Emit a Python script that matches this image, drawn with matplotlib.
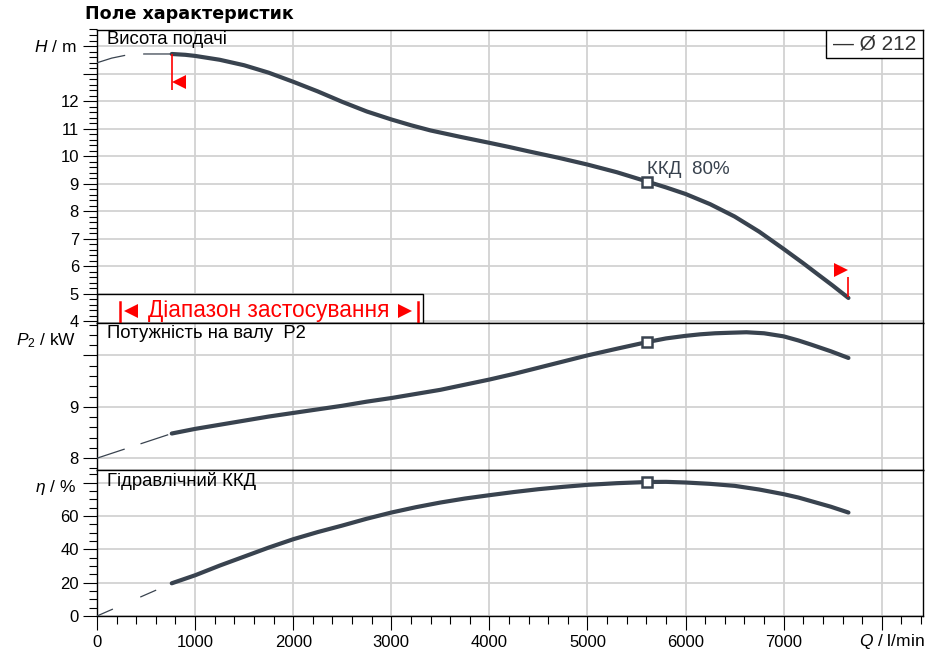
import matplotlib
matplotlib.use('Agg')
import matplotlib.pyplot as plt
import matplotlib.transforms as mtransforms
from matplotlib.patches import Rectangle
from matplotlib.ticker import MultipleLocator, FixedLocator, FixedFormatter

plt.rcParams['font.family'] = ['Liberation Sans', 'DejaVu Sans']
plt.rcParams['mathtext.fontset'] = 'custom'
plt.rcParams['mathtext.rm'] = 'Liberation Sans'
plt.rcParams['mathtext.it'] = 'Liberation Sans:italic'
plt.rcParams['lines.scale_dashes'] = False

# --- data ---
q_head = [762, 900, 1000, 1250, 1500, 1750, 2000, 2250, 2500, 2750, 3000, 3200, 3400,
          3700, 4000, 4200, 4400, 4700, 5000, 5300, 5610, 5800, 6000, 6250, 6500, 6750,
          7000, 7200, 7340, 7500, 7660]
head = [13.71, 13.68, 13.64, 13.5, 13.3, 13.03, 12.7, 12.35, 11.97, 11.62, 11.33, 11.12,
        10.93, 10.7, 10.48, 10.33, 10.17, 9.94, 9.69, 9.41, 9.07, 8.86, 8.62, 8.25, 7.8,
        7.25, 6.62, 6.1, 5.72, 5.29, 4.84]
q_head_ext = [0, 150, 300, 480, 762]
head_ext = [13.39, 13.56, 13.67, 13.71, 13.71]

q_power = [762, 1000, 1250, 1500, 1750, 2000, 2250, 2500, 2750, 3000, 3250, 3500, 3750,
           4000, 4250, 4500, 4750, 5000, 5300, 5610, 5800, 6000, 6150, 6300, 6450, 6620,
           6800, 7000, 7150, 7280, 7480, 7660]
power = [8.48, 8.57, 8.65, 8.73, 8.81, 8.88, 8.95, 9.02, 9.1, 9.17, 9.25, 9.33, 9.43,
         9.53, 9.64, 9.76, 9.88, 10.0, 10.13, 10.26, 10.33, 10.38, 10.41, 10.43, 10.44,
         10.45, 10.43, 10.37, 10.29, 10.21, 10.08, 9.95]
q_power_ext = [0, 762]
power_ext = [8.0, 8.48]

q_eff = [762, 1000, 1250, 1500, 1750, 2000, 2250, 2500, 2750, 3000, 3250, 3500, 3750,
         4000, 4250, 4500, 4750, 5000, 5300, 5610, 5800, 6000, 6250, 6500, 6750, 7000,
         7150, 7300, 7480, 7660]
eff = [19.6, 24.4, 30.2, 35.6, 41.0, 46.0, 50.3, 54.2, 58.3, 62.0, 65.2, 68.0, 70.4,
       72.4, 74.3, 76.0, 77.4, 78.6, 79.6, 80.3, 80.4, 80.0, 79.2, 78.0, 75.8, 73.0,
       71.0, 68.5, 65.5, 62.0]
q_eff_ext = [0, 762]
eff_ext = [0, 19.6]

q_bep = 5610
head_bep, power_bep, eff_bep = 9.07, 10.26, 80.3
range_lo, range_hi = 230, 3270
band_q = 3320
band_top = 4.97

x_ticks = [0, 1000, 2000, 3000, 4000, 5000, 6000, 7000, 8000]
x_labels = ['0', '1000', '2000', '3000', '4000', '5000', '6000', '7000', '']
h_ticks = [4, 5, 6, 7, 8, 9, 10, 11, 12, 13, 14]
h_labels = ['4', '5', '6', '7', '8', '9', '10', '11', '12', '', '']
p_ticks = [8, 9, 10]
p_labels = ['8', '9', '']
e_ticks = [0, 20, 40, 60, 80]
e_labels = ['0', '20', '40', '60', '']

CURVE = '#39434f'
GRID = '#d2d2d2'

fig = plt.figure(figsize=(9.36, 6.59), dpi=100)
L, W = 97 / 936, 826 / 936
ax_h = fig.add_axes([L, 1 - 323 / 659, W, (323 - 29.5) / 659])
ax_p = fig.add_axes([L, 1 - 469.5 / 659, W, 146.5 / 659])
ax_e = fig.add_axes([L, 1 - 616 / 659, W, 146.5 / 659])

ax_h.set_ylim(3.93, 14.6)
ax_p.set_ylim(7.78, 10.63)
ax_e.set_ylim(0, 87.8)

setups = [(ax_h, h_ticks, h_labels, 0.2), (ax_p, p_ticks, p_labels, 0.2),
          (ax_e, e_ticks, e_labels, 5)]
for ax, yt, yl, ym in setups:
    ax.set_xlim(0, 8420)
    ax.set_axisbelow(True)
    ax.xaxis.set_major_locator(FixedLocator(x_ticks))
    ax.xaxis.set_major_formatter(FixedFormatter(x_labels))
    ax.xaxis.set_minor_locator(MultipleLocator(200))
    ax.yaxis.set_major_locator(FixedLocator(yt))
    ax.yaxis.set_major_formatter(FixedFormatter(yl))
    ax.yaxis.set_minor_locator(MultipleLocator(ym))
    ax.grid(True, which='major', color=GRID, lw=1.3)
    ax.tick_params(axis='y', which='major', length=10, width=0.8, labelsize=12, pad=3)
    ax.tick_params(axis='y', which='minor', length=5.5, width=0.8)
    for s in ax.spines.values():
        s.set_linewidth(1.0)
        s.set_color('black')

for ax in (ax_h, ax_p):
    ax.tick_params(axis='x', which='both', length=0, labelbottom=False)
ax_e.tick_params(axis='x', which='major', length=10, width=0.8, labelsize=12, pad=4)
ax_e.tick_params(axis='x', which='minor', length=5.5, width=0.8)

# curves
line_kw = dict(color=CURVE, lw=3, solid_capstyle='round', solid_joinstyle='round', zorder=3)
ax_h.plot(q_head_ext, head_ext, color=CURVE, lw=0.9, dashes=(21, 13), zorder=3)
ax_h.plot(q_head, head, **line_kw)
ax_p.plot(q_power_ext, power_ext, color=CURVE, lw=0.9, dashes=(21, 12), zorder=3)
ax_p.plot(q_power, power, **line_kw)
ax_e.plot(q_eff_ext, eff_ext, color=CURVE, lw=0.9, dashes=(12.5, 21.5), zorder=3)
ax_e.plot(q_eff, eff, **line_kw)

for ax, v in ((ax_h, head_bep), (ax_p, power_bep), (ax_e, eff_bep)):
    ax.plot([q_bep], [v], marker='s', ms=7, mfc='white', mec=CURVE, mew=1.8, zorder=4)

ax_h.annotate('ККД  80%', xy=(q_bep, head_bep), xytext=(0, 4), textcoords='offset pixels',
              ha='left', va='bottom', fontsize=13.5, color=CURVE)


def off(ax, dx, dy, base=None):
    return mtransforms.offset_copy(base if base is not None else ax.transData,
                                   fig=fig, x=dx, y=dy, units='dots')


# red limit markers on head curve
ax_h.plot([q_head[0]], [head[0]], marker='|', ms=26, mew=1.2, color='red',
          transform=off(ax_h, 0, -18), zorder=4)
ax_h.plot([q_head[0]], [head[0]], marker='<', ms=10, mew=0, color='red',
          transform=off(ax_h, 7.5, -28), zorder=4)
ax_h.plot([q_head[-1]], [head[-1]], marker='|', ms=15, mew=1.2, color='red',
          transform=off(ax_h, 0, 10.5), zorder=4)
ax_h.plot([q_head[-1]], [head[-1]], marker='>', ms=10, mew=0, color='red',
          transform=off(ax_h, -7.5, 27.5), zorder=4)

# operating range band
ax_h.add_patch(Rectangle((0, 3.93), band_q, band_top - 3.93, facecolor='white',
                         edgecolor='black', lw=1.0, zorder=2))
bl = mtransforms.blended_transform_factory(ax_h.transData, ax_h.transAxes)
for q in (range_lo, range_hi):
    ax_h.plot([q, q], [0.004, 0.072], color='red', lw=1.8, transform=bl, zorder=3)
ax_h.plot([range_lo], [0.041], marker='<', ms=10, mew=0, color='red',
          transform=off(ax_h, 11.7, 0, bl), zorder=3)
ax_h.plot([range_hi], [0.041], marker='>', ms=10, mew=0, color='red',
          transform=off(ax_h, -12.5, 0, bl), zorder=3)
ax_h.text((range_lo + range_hi) / 2, 0.041, 'Діапазон застосування', transform=bl,
          ha='center', va='center', color='red', fontsize=16.3, zorder=3)

# legend box
ax_h.add_patch(Rectangle((1 - 97 / 826, 1 - 28.5 / 293.5), 97 / 826, 28.5 / 293.5,
                         transform=ax_h.transAxes, facecolor='white', edgecolor='black',
                         lw=1.0, zorder=5))
ax_h.text(1 - 48.5 / 826, 1 - 14.5 / 293.5, '— Ø 212', transform=ax_h.transAxes,
          ha='center', va='center', fontsize=15, color='#333333', zorder=6)

# panel captions
for ax, cap in ((ax_h, 'Висота подачі'), (ax_p, 'Потужність на валу  P2'),
                (ax_e, 'Гідравлічний ККД')):
    ax.annotate(cap, xy=(0, 1), xycoords='axes fraction', xytext=(10, -2),
                textcoords='offset pixels', ha='left', va='top', fontsize=13.3)

# axis labels
for ax, lab in ((ax_h, r'$H$ / m'), (ax_p, r'$P_2$ / kW'), (ax_e, r'$\eta$ / %')):
    ax.annotate(lab, xy=(0, 1), xycoords='axes fraction', xytext=(-21, -18),
                textcoords='offset pixels', ha='right', va='center', fontsize=12.5)

ax_e.annotate(r'$Q$ / l/min', xy=(1, 0), xycoords='axes fraction', xytext=(2, -16),
              textcoords='offset pixels', ha='right', va='top', fontsize=12.5)

fig.text(85 / 936, 1 - 19 / 659, 'Поле характеристик', fontsize=12.6, weight='bold',
         family='DejaVu Sans', va='baseline')

fig.savefig('out.png', dpi=100)
